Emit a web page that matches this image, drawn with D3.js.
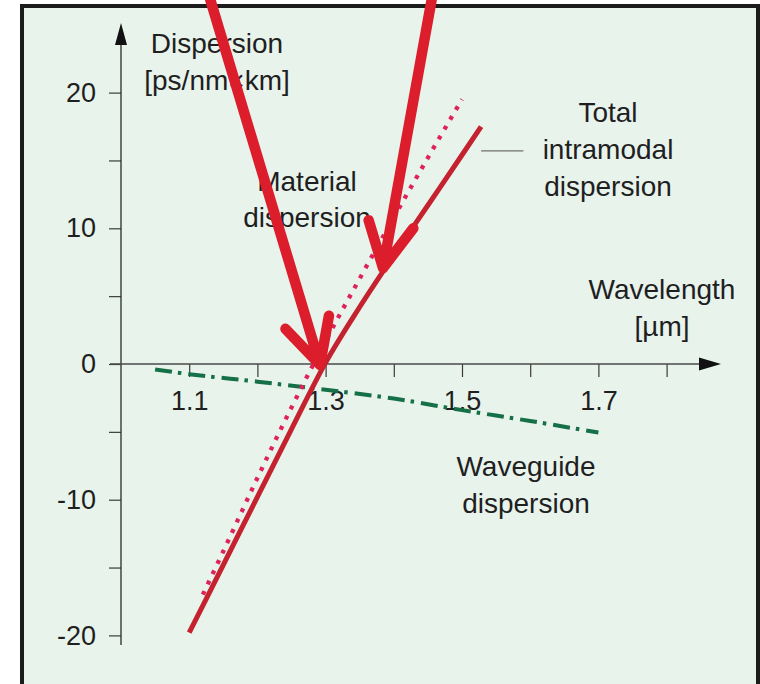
<!DOCTYPE html>
<html><head><meta charset="utf-8">
<script src="https://cdn.jsdelivr.net/npm/d3@7"></script>
<style>html,body{margin:0;padding:0;background:#fff}svg{display:block}</style>
</head><body>
<svg id="chart" width="760" height="684"></svg>
<script>
// Axis ticks
const wavelengthTicks = [1.1, 1.2, 1.3, 1.4, 1.5, 1.6, 1.7, 1.8];
const wavelengthLabels = [1.1, 1.3, 1.5, 1.7];
const dispersionTicks = [-20, -15, -10, -5, 0, 5, 10, 15, 20];
const dispersionLabels = [-20, -10, 0, 10, 20];

// Total intramodal dispersion [ps/nm×km] vs wavelength [µm]
const totalWavelength = [1.10, 1.15, 1.20, 1.25, 1.30, 1.35, 1.40, 1.45, 1.50, 1.528];
const totalDispersion = [-19.8, -14.8, -9.8, -4.8, 0.1, 4.2, 8.0, 11.7, 15.4, 17.5];

// Material dispersion
const materialWavelength = [1.12, 1.15, 1.20, 1.25, 1.30, 1.35, 1.40, 1.45, 1.50];
const materialDispersion = [-17.0, -13.8, -8.4, -3.2, 1.7, 6.3, 10.8, 15.2, 19.5];

// Waveguide dispersion
const waveguideWavelength = [1.05, 1.10, 1.20, 1.30, 1.40, 1.50, 1.60, 1.70];
const waveguideDispersion = [-0.4, -0.75, -1.3, -1.9, -2.55, -3.4, -4.2, -5.05];

// Callout arrows: [wavelength, dispersion] of tail and tip
const calloutTails = [[1.1276, 27.4], [1.4575, 27.4]];
const calloutTips = [[1.2918, -0.07], [1.3842, 7.07]];

const svg = d3.select("#chart");
const font = "'Liberation Sans', Arial, sans-serif";
const ink = "#1f1f1f";

// panel
svg.append("rect").attr("x", 22).attr("y", 6).attr("width", 736).attr("height", 700)
  .attr("fill", "#e8f3ec").attr("stroke", "#1c1c1c").attr("stroke-width", 4);

const x = d3.scaleLinear().domain([1.0, 1.8]).range([121, 666.6]);
const y = d3.scaleLinear().domain([-20, 20]).range([635.4, 92.6]);

// y axis
const yAxis = d3.axisLeft(y).tickValues(dispersionTicks).tickSize(12).tickPadding(13)
  .tickFormat(d => dispersionLabels.includes(d) ? d : "");
const gy = svg.append("g").attr("transform", `translate(${x(1.0)},0)`).call(yAxis);
gy.select(".domain").remove();
gy.selectAll(".tick line").attr("stroke", "#3a3a3a").attr("stroke-width", 1.2);
gy.selectAll(".tick text").attr("font-family", font).attr("font-size", 27).attr("fill", ink);

// x axis
const xAxis = d3.axisBottom(x).tickValues(wavelengthTicks).tickSize(13).tickPadding(14)
  .tickFormat(d => wavelengthLabels.some(v => Math.abs(v - d) < 1e-9) ? d3.format(".1f")(d) : "");
const gx = svg.append("g").attr("transform", `translate(0,${y(0)})`).call(xAxis);
gx.select(".domain").remove();
gx.selectAll(".tick line").attr("stroke", "#3a3a3a").attr("stroke-width", 1.2);
gx.selectAll(".tick text").attr("font-family", font).attr("font-size", 27).attr("fill", ink);

// axis lines with arrowheads
const axisCol = "#4a4a4a";
svg.append("line").attr("x1", x(1.0)).attr("x2", x(1.0)).attr("y1", 645).attr("y2", 40)
  .attr("stroke", "#2a2a2a").attr("stroke-width", 1.3);
svg.append("path").attr("d", `M${x(1.0)},23 L${x(1.0) - 6},45 L${x(1.0) + 6},45 Z`).attr("fill", "#111");
svg.append("line").attr("x1", 110).attr("x2", 705).attr("y1", y(0)).attr("y2", y(0))
  .attr("stroke", axisCol).attr("stroke-width", 1.3);
svg.append("path").attr("d", `M721,${y(0)} L699,${y(0) - 6.5} L699,${y(0) + 6.5} Z`).attr("fill", "#111");

// curves
const line = d3.line().x(d => x(d[0])).y(d => y(d[1])).curve(d3.curveMonotoneX);
const zip = (a, b) => a.map((v, i) => [v, b[i]]);

svg.append("path").attr("d", line(zip(waveguideWavelength, waveguideDispersion)))
  .attr("fill", "none").attr("stroke", "#157047").attr("stroke-width", 4)
  .attr("stroke-dasharray", "17,6,3.5,7");

svg.append("path").attr("d", line(zip(materialWavelength, materialDispersion)))
  .attr("fill", "none").attr("stroke", "#e0225a").attr("stroke-width", 4.3)
  .attr("stroke-dasharray", "4,7.4");

svg.append("path").attr("d", line(zip(totalWavelength, totalDispersion)))
  .attr("fill", "none").attr("stroke", "#c5222f").attr("stroke-width", 5);

// leader line for the total curve
svg.append("line").attr("x1", x(1.528)).attr("x2", x(1.59)).attr("y1", y(15.7)).attr("y2", y(15.7))
  .attr("stroke", "#707070").attr("stroke-width", 1.2);

// text labels
function label(lines, cx, baseline, gap) {
  const t = svg.append("text").attr("font-family", font).attr("font-size", 28)
    .attr("fill", ink).attr("text-anchor", "middle");
  lines.forEach((s, i) => t.append("tspan").attr("x", cx).attr("y", baseline + i * gap).text(s));
}
label(["Dispersion", "[ps/nm×km]"], 217, 53, 37);
label(["Total", "intramodal", "dispersion"], 608, 122, 37);
label(["Material", "dispersion"], 307, 191, 36);
label(["Wavelength", "[µm]"], 662, 299, 37);
label(["Waveguide", "dispersion"], 526, 476, 37);

// callout arrows
calloutTails.forEach((tail, i) => {
  const tip = calloutTips[i];
  const tx = x(tip[0]), ty = y(tip[1]);
  const sx = x(tail[0]), sy = y(tail[1]);
  const back = Math.atan2(sy - ty, sx - tx);
  const half = 27 * Math.PI / 180, len = 50;
  const a1 = [tx + len * Math.cos(back - half), ty + len * Math.sin(back - half)];
  const a2 = [tx + len * Math.cos(back + half), ty + len * Math.sin(back + half)];
  const p = d3.path();
  p.moveTo(sx, sy); p.lineTo(tx, ty);
  p.moveTo(a1[0], a1[1]); p.lineTo(tx, ty); p.lineTo(a2[0], a2[1]);
  svg.append("path").attr("d", p.toString()).attr("fill", "none")
    .attr("stroke", "#dc1d2b").attr("stroke-width", 10.5)
    .attr("stroke-linecap", "round").attr("stroke-linejoin", "round");
});
</script>
</body></html>
